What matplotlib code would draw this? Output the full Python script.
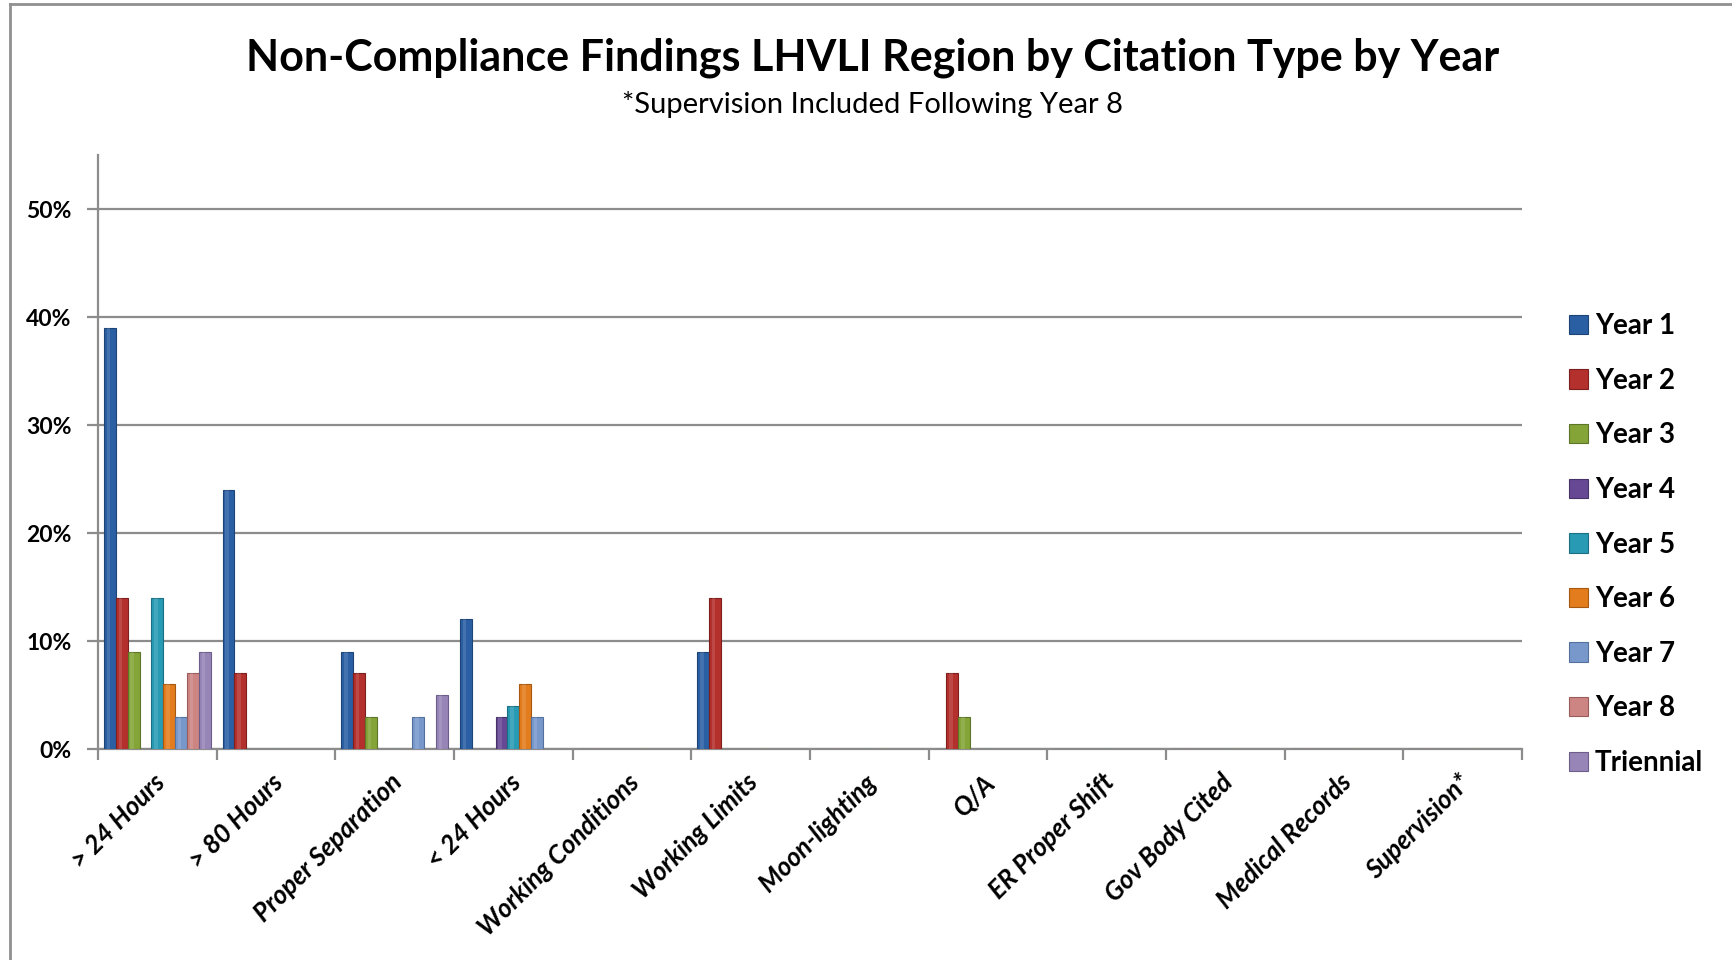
import numpy as np
import matplotlib
matplotlib.use('Agg')
import matplotlib.pyplot as plt
import matplotlib.ticker as ticker
from matplotlib.lines import Line2D

plt.rcParams['font.family'] = ['Lato', 'DejaVu Sans']

# citation types (x axis)
categories = ['> 24 Hours', '> 80 Hours', 'Proper Separation', '< 24 Hours',
              'Working Conditions', 'Working Limits', 'Moon-lighting', 'Q/A',
              'ER Proper Shift', 'Gov Body Cited', 'Medical Records', 'Supervision*']
series = ['Year 1', 'Year 2', 'Year 3', 'Year 4', 'Year 5', 'Year 6',
          'Year 7', 'Year 8', 'Triennial']

# percent of findings, one list per series
year1 = [39, 24, 9, 12, 0, 9, 0, 0, 0, 0, 0, 0]
year2 = [14, 7, 7, 0, 0, 14, 0, 7, 0, 0, 0, 0]
year3 = [9, 0, 3, 0, 0, 0, 0, 3, 0, 0, 0, 0]
year4 = [0, 0, 0, 3, 0, 0, 0, 0, 0, 0, 0, 0]
year5 = [14, 0, 0, 4, 0, 0, 0, 0, 0, 0, 0, 0]
year6 = [6, 0, 0, 6, 0, 0, 0, 0, 0, 0, 0, 0]
year7 = [3, 0, 3, 3, 0, 0, 0, 0, 0, 0, 0, 0]
year8 = [7, 0, 0, 0, 0, 0, 0, 0, 0, 0, 0, 0]
triennial = [9, 0, 5, 0, 0, 0, 0, 0, 0, 0, 0, 0]
values = [year1, year2, year3, year4, year5, year6, year7, year8, triennial]

colors = ['#2a5fa3', '#b3302d', '#84a438', '#674894', '#289ab4',
          '#e37c1c', '#7898cc', '#cc8583', '#9785b8']
edges = ['#1d4477', '#7e1f1d', '#5c7526', '#48326a', '#1b6f83',
         '#a65812', '#54709c', '#9a5c5a', '#6c5e88']

fig = plt.figure(figsize=(17.32, 9.6), dpi=100)
ax = fig.add_axes([98/1732, 1-749/960, (1522-98)/1732, (749-155)/960])

x = np.arange(len(categories))
w = 0.1
for i, (name, vals) in enumerate(zip(series, values)):
    v = np.array(vals) / 100.0
    ax.bar(x + (i - 4) * w, v, width=w, color=colors[i], edgecolor=edges[i],
           linewidth=0.8, label=name, zorder=3)
    # light stripe to mimic the rounded bar look
    ax.bar(x + (i - 4) * w - w * 0.12, v, width=w * 0.3, color='white',
           alpha=0.12, linewidth=0, zorder=4)

ax.set_xlim(-0.5, len(categories) - 0.5)
ax.set_ylim(0, 0.55)
ax.yaxis.set_major_locator(ticker.FixedLocator([0, 0.1, 0.2, 0.3, 0.4, 0.5]))
ax.yaxis.set_major_formatter(ticker.FuncFormatter(lambda v, p: '%d%%' % round(v * 100)))
ax.grid(axis='y', color='#8c8c8c', linewidth=1.6, zorder=0)
for s in ['top', 'right']:
    ax.spines[s].set_visible(False)
for s in ['left', 'bottom']:
    ax.spines[s].set_color('#8c8c8c')
    ax.spines[s].set_linewidth(1.6)

# ticks at category borders, labels at centres
ax.set_xticks(np.arange(-0.5, len(categories), 1.0))
ax.set_xticklabels([])
ax.set_xticks(x + 0.03, minor=True)
ax.set_xticklabels(categories, minor=True, rotation=45, ha='right', va='center',
                   rotation_mode='anchor', fontsize=18.5, fontweight='bold',
                   fontstyle='italic')
ax.tick_params(axis='x', which='minor', length=0, pad=21)
ax.tick_params(axis='x', which='major', length=8, width=1.6, color='#8c8c8c')
ax.tick_params(axis='y', length=8, width=1.6, color='#8c8c8c', pad=11,
               labelsize=16.5)
for t in ax.get_yticklabels():
    t.set_fontweight('bold')

leg = ax.legend(loc='upper left', bbox_to_anchor=(1.025, 0.7525), frameon=False,
                prop={'size': 20, 'weight': 'bold'}, handlelength=0.7,
                handleheight=0.7, handletextpad=0.25, labelspacing=1.03,
                borderaxespad=0)

fig.text(873/1732, 1-58/960, 'Non-Compliance Findings LHVLI Region by Citation Type by Year',
         ha='center', va='center', fontsize=31, fontweight='bold')
fig.text(873/1732, 1-105/960, '*Supervision Included Following Year 8',
         ha='center', va='center', fontsize=21)

# outer chart frame (left and top edges are visible)
fig.add_artist(Line2D([9.5/1732, 9.5/1732], [0, 1-4/960], color='#909090',
                      linewidth=2, transform=fig.transFigure))
fig.add_artist(Line2D([9.5/1732, 1], [1-4/960, 1-4/960], color='#909090',
                      linewidth=2, transform=fig.transFigure))

fig.savefig('out.png', dpi=100)
